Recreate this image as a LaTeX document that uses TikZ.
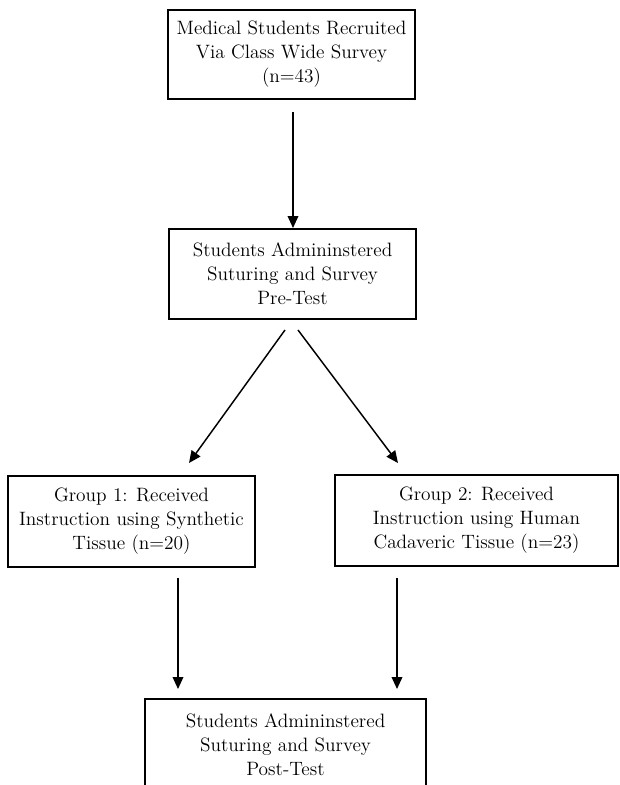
\documentclass[tikz,border=0pt]{standalone}
\usetikzlibrary{arrows.meta}
\begin{document}
\begin{tikzpicture}[x=0.75pt,y=-0.75pt,
  boxframe/.style={draw=black,line width=1.3pt,align=center,inner sep=0pt,
    font=\fontsize{14.5}{18}\selectfont},
  flow/.style={line width=1.1pt,-{Triangle[length=9pt,width=8pt]}}]
\useasboundingbox (0,0) rectangle (620,785);
\node[boxframe,minimum width=247*0.75pt,minimum height=89*0.75pt] (b1) at (291.5,54.5)
  {Medical Students Recruited\\Via Class Wide Survey\\(n=43)};
\node[boxframe,minimum width=247*0.75pt,minimum height=90*0.75pt] (b2) at (292.5,274)
  {Students Admininstered\\Suturing and Survey\\Pre-Test};
\node[boxframe,minimum width=247*0.75pt,minimum height=91*0.75pt] (b3) at (131.5,521.5)
  {Group 1: Received\\Instruction using Synthetic\\Tissue (n=20)};
\node[boxframe,minimum width=283*0.75pt,minimum height=91*0.75pt] (b4) at (476.5,520.5)
  {Group 2: Received\\Instruction using Human\\Cadaveric Tissue (n=23)};
\node[boxframe,draw=none,minimum width=279*0.75pt,minimum height=89*0.75pt] (b5) at (285.5,744.5)
  {Students Admininstered\\Suturing and Survey\\Post-Test};
\draw[line width=1.3pt] (b5.south west) -- (b5.north west) -- (b5.north east) -- (b5.south east);
% connector endpoints
\coordinate (a1s) at (293,112);
\coordinate (a1e) at (293,228);
\coordinate (l1s) at (285,330);
\coordinate (l1e) at (189,463);
\coordinate (r1s) at (298,330);
\coordinate (r1e) at (398,463);
\coordinate (d3s) at (178,578);
\coordinate (d3e) at (178,689);
\coordinate (d4s) at (397,578);
\coordinate (d4e) at (397,689);
\draw[flow] (a1s) -- (a1e);
\draw[flow] (l1s) -- (l1e);
\draw[flow] (r1s) -- (r1e);
\draw[flow] (d3s) -- (d3e);
\draw[flow] (d4s) -- (d4e);
\end{tikzpicture}
\end{document}
